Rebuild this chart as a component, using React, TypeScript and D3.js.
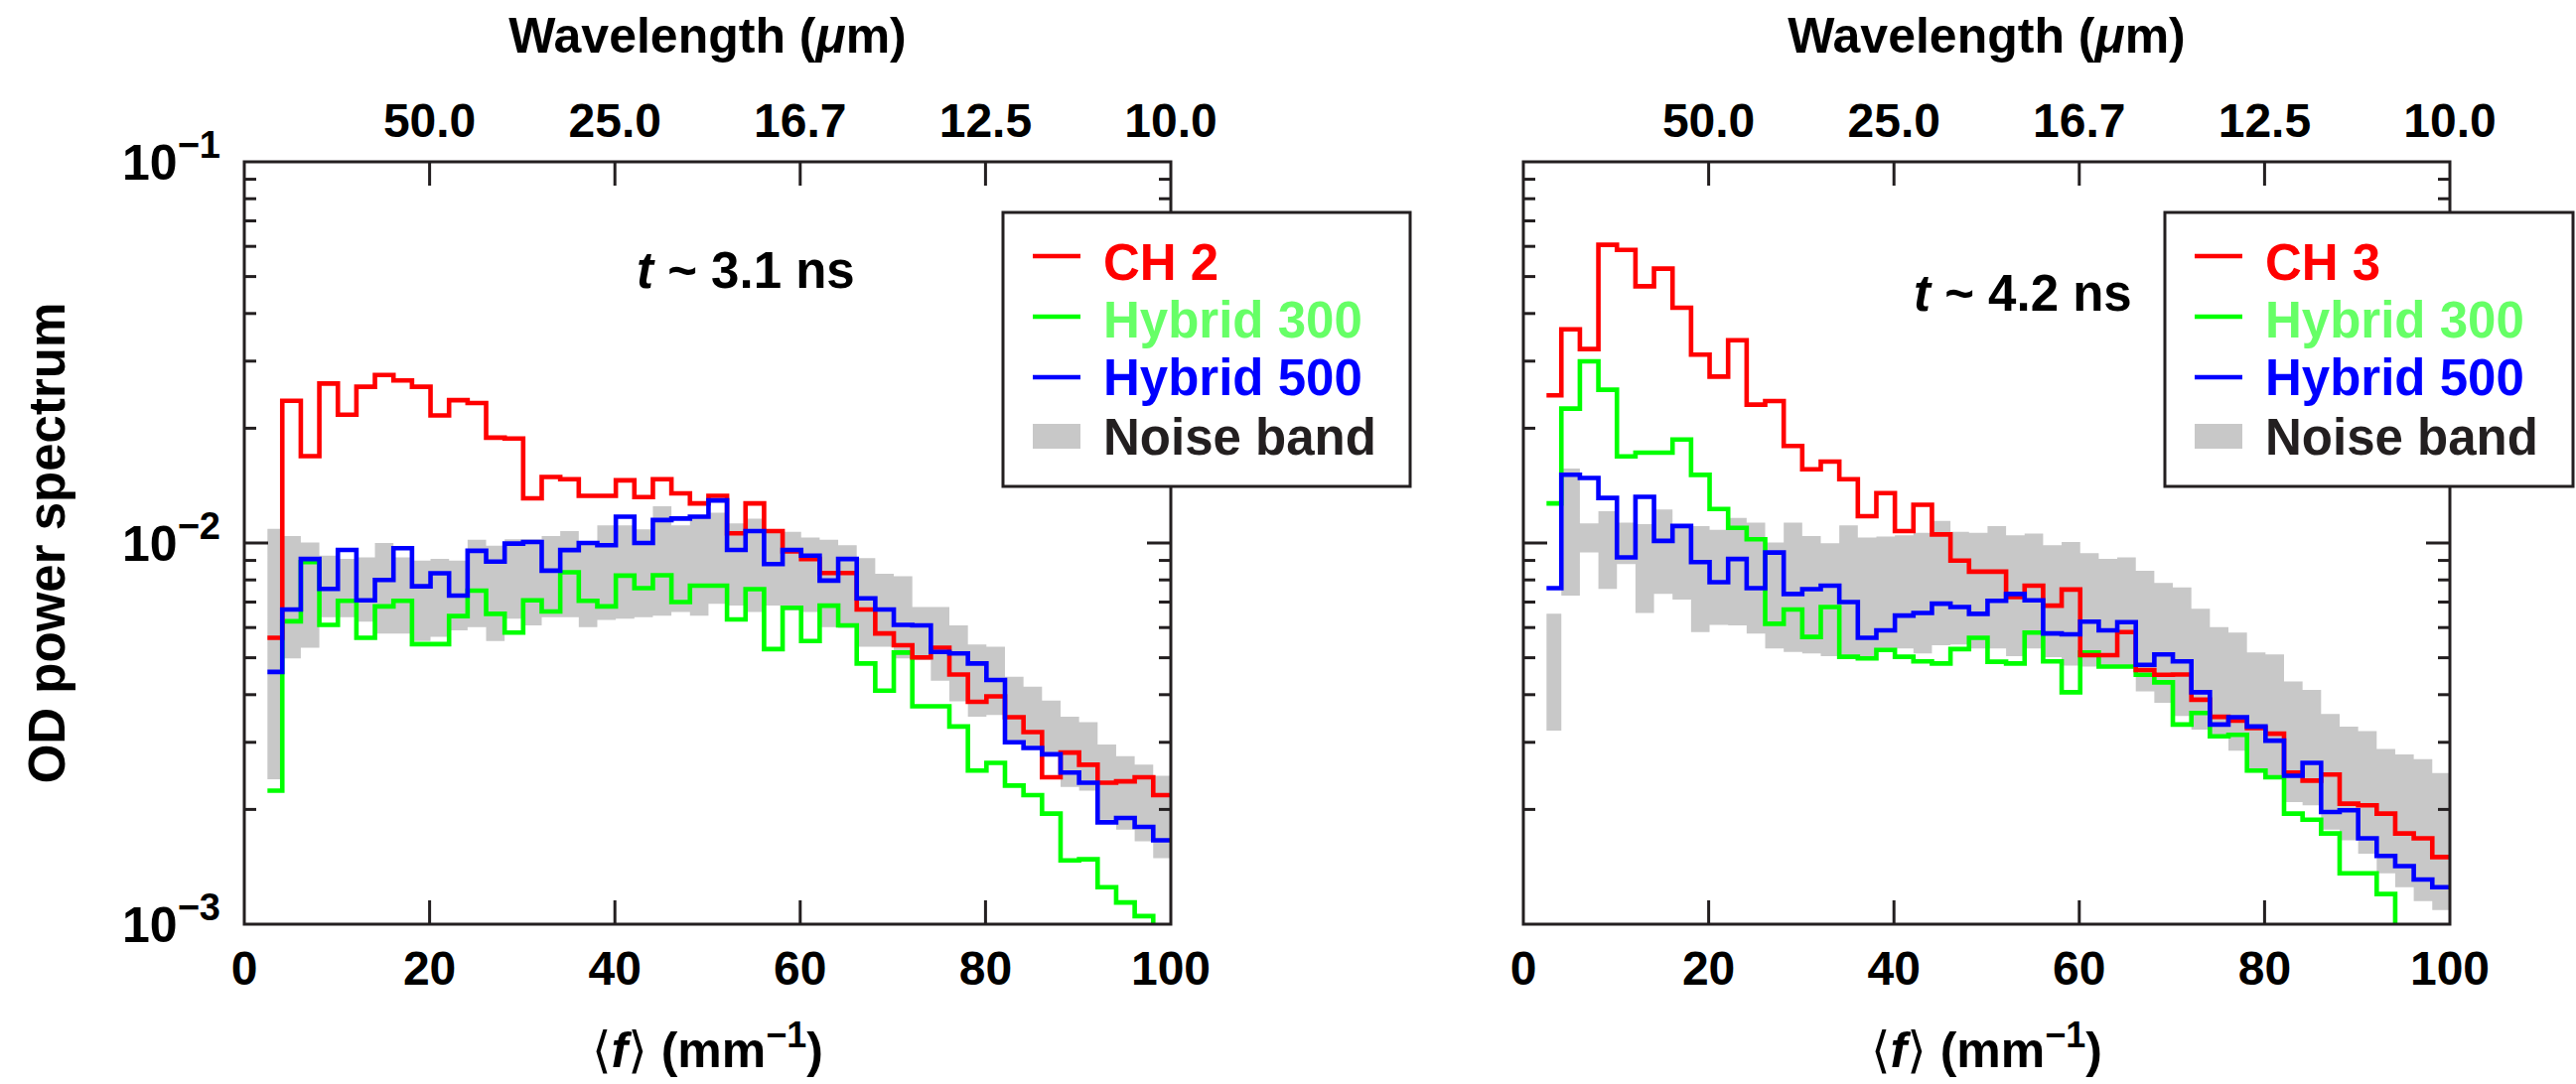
import React from 'react';
import * as d3 from 'd3';

// Bin edges (mm^-1) shared by all spectra
const BIN_EDGES = [2.5, 4.1, 6.1, 8.1, 10.1, 12.1, 14.1, 16.1, 18.1, 20.1, 22.1, 24.1, 26.1, 28.1, 30.1, 32.1, 34.1, 36.1, 38.1, 40.1, 42.1, 44.1, 46.1, 48.1, 50.1, 52.1, 54.1, 56.1, 58.1, 60.1, 62.1, 64.1, 66.1, 68.1, 70.1, 72.1, 74.1, 76.1, 78.1, 80.1, 82.1, 84.1, 86.1, 88.1, 90.1, 92.1, 94.1, 96.1, 98.1, 100];

// Left panel (t ~ 3.1 ns)
const L_CH2 = [0.00564, 0.0236, 0.0169, 0.0262, 0.0217, 0.0257, 0.0276, 0.0267, 0.0257, 0.0216, 0.0237, 0.0233, 0.0189, 0.0188, 0.0131, 0.0149, 0.0147, 0.0133, 0.0133, 0.0146, 0.0132, 0.0147, 0.0135, 0.0127, 0.0133, 0.0106, 0.0127, 0.01075, 0.0095, 0.00908, 0.00834, 0.00834, 0.00669, 0.00579, 0.00539, 0.00501, 0.00531, 0.00452, 0.00383, 0.00396, 0.00349, 0.00319, 0.00243, 0.00282, 0.00262, 0.00235, 0.00237, 0.00243, 0.00218];
const L_H300 = [0.00224, 0.00623, 0.00891, 0.0061, 0.00705, 0.00564, 0.00682, 0.00705, 0.00543, 0.00543, 0.00643, 0.0075, 0.00652, 0.00582, 0.00707, 0.00661, 0.00838, 0.00705, 0.00682, 0.00821, 0.00761, 0.00823, 0.0070, 0.00773, 0.00773, 0.0063, 0.00757, 0.00527, 0.00676, 0.00553, 0.00685, 0.00608, 0.00483, 0.0041, 0.00516, 0.00373, 0.00373, 0.0033, 0.00253, 0.00265, 0.00231, 0.00218, 0.00195, 0.00147, 0.00148, 0.00125, 0.00114, 0.00105, 0.0008];
const L_H500 = [0.00459, 0.00669, 0.00908, 0.00758, 0.00959, 0.00707, 0.0080, 0.00969, 0.0077, 0.00833, 0.00728, 0.00954, 0.00894, 0.00996, 0.01006, 0.00846, 0.00958, 0.0100, 0.00987, 0.01172, 0.0100, 0.01149, 0.01159, 0.01172, 0.01293, 0.00959, 0.01075, 0.0088, 0.00959, 0.00926, 0.00797, 0.00908, 0.00716, 0.00669, 0.0061, 0.00608, 0.00518, 0.00513, 0.00483, 0.00437, 0.0030, 0.0029, 0.00279, 0.0025, 0.00235, 0.00185, 0.0019, 0.0018, 0.00166];
const L_NOISE_HI = [0.0109, 0.01043, 0.01003, 0.00926, 0.00908, 0.00917, 0.0100, 0.00917, 0.00899, 0.00908, 0.00899, 0.01019, 0.00983, 0.01023, 0.01023, 0.01043, 0.01075, 0.0100, 0.01112, 0.01112, 0.01086, 0.01249, 0.01112, 0.01177, 0.0120, 0.01126, 0.01159, 0.01086, 0.01069, 0.01033, 0.01019, 0.00987, 0.00912, 0.0083, 0.00818, 0.00679, 0.00679, 0.00608, 0.00542, 0.00534, 0.00446, 0.0042, 0.00386, 0.0035, 0.00339, 0.00296, 0.00276, 0.00262, 0.00245];
const L_NOISE_LO = [0.0024, 0.00498, 0.00531, 0.00639, 0.00639, 0.00622, 0.00579, 0.00579, 0.00553, 0.00567, 0.0059, 0.00602, 0.00553, 0.00633, 0.00608, 0.00639, 0.00639, 0.00602, 0.00628, 0.00633, 0.00639, 0.00645, 0.00659, 0.00645, 0.00693, 0.00685, 0.00659, 0.00685, 0.00665, 0.00659, 0.00602, 0.00599, 0.00534, 0.00534, 0.00498, 0.00493, 0.00435, 0.00384, 0.0035, 0.00354, 0.00302, 0.00293, 0.00279, 0.00229, 0.00224, 0.00188, 0.00177, 0.00165, 0.00149];

// Right panel (t ~ 4.2 ns)
const R_CH3 = [0.02439, 0.03637, 0.03227, 0.06056, 0.05875, 0.04715, 0.05244, 0.04142, 0.03119, 0.02733, 0.03404, 0.02306, 0.02358, 0.01797, 0.01561, 0.01635, 0.0147, 0.01176, 0.01352, 0.01075, 0.0126, 0.01053, 0.00899, 0.00841, 0.00841, 0.00721, 0.00773, 0.00685, 0.00755, 0.00508, 0.00508, 0.00584, 0.00464, 0.00451, 0.00452, 0.00388, 0.0035, 0.00342, 0.00327, 0.00316, 0.0025, 0.00238, 0.00247, 0.00207, 0.00205, 0.00195, 0.00173, 0.00168, 0.0015];
const R_H300 = [0.0127, 0.02252, 0.02997, 0.02523, 0.01688, 0.01725, 0.01725, 0.01869, 0.01509, 0.01228, 0.01096, 0.01023, 0.00614, 0.00669, 0.00567, 0.00679, 0.00503, 0.00498, 0.00524, 0.00503, 0.00489, 0.00483, 0.00527, 0.00564, 0.00488, 0.00483, 0.00582, 0.00489, 0.00406, 0.00516, 0.00474, 0.00474, 0.00451, 0.00431, 0.00334, 0.00358, 0.00311, 0.00314, 0.00253, 0.00243, 0.00195, 0.00188, 0.00173, 0.00136, 0.00136, 0.0012, 0.0008, 0.0007, 0.0006];
const R_H500 = [0.00761, 0.0151, 0.01481, 0.01313, 0.00917, 0.01322, 0.01013, 0.01108, 0.00891, 0.00789, 0.00908, 0.00761, 0.00944, 0.00735, 0.00757, 0.00773, 0.0070, 0.00564, 0.0059, 0.00645, 0.00655, 0.00693, 0.00679, 0.00652, 0.00705, 0.00735, 0.00707, 0.00579, 0.00576, 0.00622, 0.0059, 0.0062, 0.00479, 0.0051, 0.00489, 0.00406, 0.00334, 0.00349, 0.0033, 0.00303, 0.00245, 0.00265, 0.00197, 0.00199, 0.00168, 0.00151, 0.00142, 0.00131, 0.00125];
const R_NOISE_HI = [0.00652, 0.01568, 0.01126, 0.01212, 0.01131, 0.0112, 0.01224, 0.0112, 0.01108, 0.01083, 0.01163, 0.01131, 0.01003, 0.01131, 0.01043, 0.00998, 0.01112, 0.01033, 0.01039, 0.01047, 0.01064, 0.01142, 0.01069, 0.01064, 0.01108, 0.01047, 0.01058, 0.00987, 0.01006, 0.0094, 0.00908, 0.00917, 0.00846, 0.00785, 0.00765, 0.00672, 0.00602, 0.00582, 0.00516, 0.0051, 0.00433, 0.00412, 0.00356, 0.0033, 0.00321, 0.00288, 0.00279, 0.00271, 0.00249];
const R_NOISE_LO = [0.00322, 0.00728, 0.00944, 0.00758, 0.0088, 0.00655, 0.00735, 0.00711, 0.00584, 0.0061, 0.00608, 0.00579, 0.00529, 0.00518, 0.00513, 0.00505, 0.00498, 0.00498, 0.00524, 0.00529, 0.00513, 0.00539, 0.00542, 0.00529, 0.00529, 0.00505, 0.00529, 0.00502, 0.00477, 0.00474, 0.00474, 0.00474, 0.00408, 0.00381, 0.00352, 0.00324, 0.00314, 0.00285, 0.0025, 0.00243, 0.00209, 0.00205, 0.00177, 0.00166, 0.00153, 0.00136, 0.00125, 0.00115, 0.00109];

const X_TICKS = [0, 20, 40, 60, 80, 100];
const TOP_TICKS = [20, 40, 60, 80, 100];
const Y_MAJOR = [1e-3, 1e-2, 1e-1];
const Y_MAJOR_EXP = ['3', '2', '1'];

const FONT = "'Liberation Sans', Arial, Helvetica, sans-serif";
const INK = '#231f20';
const RED = '#ff0000';
const GREEN = '#00ff00';
const BLUE = '#0000ff';
const GREEN_TEXT = '#66ff66';
const BAND = '#c8c8c8';

const TOP = 163;
const BOTTOM = 931;
const PW = 933;
const LW = 4.6;

type PanelProps = {
  id: string;
  x0: number;
  red: number[];
  green: number[];
  blue: number[];
  hi: number[];
  lo: number[];
  redLabel: string;
  time: string;
  timeX: number;
  timeY: number;
  legendX: number;
  legendW: number;
  yLabels: boolean;
};

function Panel(p: PanelProps) {
  const x = d3.scaleLinear().domain([0, 100]).range([p.x0, p.x0 + PW]);
  const y = d3.scaleLog().domain([1e-3, 1e-1]).range([BOTTOM, TOP]);
  const n = BIN_EDGES.length - 1;
  const pts = (vals: number[]) => {
    const a: [number, number][] = vals.map((v, i) => [BIN_EDGES[i], v]);
    a.push([BIN_EDGES[n], vals[n - 1]]);
    return a;
  };
  const line = d3.line<[number, number]>().x(d => x(d[0])).y(d => y(d[1])).curve(d3.curveStepAfter);
  const bandPts: [number, number, number][] = p.hi.map((v, i) => [BIN_EDGES[i], p.lo[i], v]);
  bandPts.push([BIN_EDGES[n], p.lo[n - 1], p.hi[n - 1]]);
  const area = d3.area<[number, number, number]>().x(d => x(d[0])).y0(d => y(d[1])).y1(d => y(d[2])).curve(d3.curveStepAfter);

  const minor: number[] = [];
  [1e-3, 1e-2].forEach(b => { for (let k = 2; k <= 9; k++) minor.push(b * k); });

  const xl = x(0), xr = x(100);
  const lx = p.legendX, ly = 214, lh = 276;
  const rows = [
    { label: p.redLabel, color: RED, text: RED },
    { label: 'Hybrid 300', color: GREEN, text: GREEN_TEXT },
    { label: 'Hybrid 500', color: BLUE, text: BLUE },
  ];
  const cx = (xl + xr) / 2;
  return (
    <g>
      <defs>
        <clipPath id={`clip-${p.id}`}>
          <rect x={xl} y={TOP} width={xr - xl} height={BOTTOM - TOP} />
        </clipPath>
      </defs>
      <g clipPath={`url(#clip-${p.id})`}>
        <path d={area(bandPts) || ''} fill={BAND} stroke="none" />
        <path d={line(pts(p.green)) || ''} fill="none" stroke={GREEN} strokeWidth={LW} />
        <path d={line(pts(p.red)) || ''} fill="none" stroke={RED} strokeWidth={LW} />
        <path d={line(pts(p.blue)) || ''} fill="none" stroke={BLUE} strokeWidth={LW} />
      </g>
      {X_TICKS.slice(1, -1).map(t => (
        <g key={`xt${t}`}>
          <line x1={x(t)} x2={x(t)} y1={BOTTOM} y2={BOTTOM - 24} stroke={INK} strokeWidth={3} />
          <line x1={x(t)} x2={x(t)} y1={TOP} y2={TOP + 24} stroke={INK} strokeWidth={3} />
        </g>
      ))}
      {Y_MAJOR.slice(1, -1).map(v => (
        <g key={`ym${v}`}>
          <line x1={xl} x2={xl + 24} y1={y(v)} y2={y(v)} stroke={INK} strokeWidth={3} />
          <line x1={xr} x2={xr - 24} y1={y(v)} y2={y(v)} stroke={INK} strokeWidth={3} />
        </g>
      ))}
      {minor.map(v => (
        <g key={`yn${v}`}>
          <line x1={xl} x2={xl + 12} y1={y(v)} y2={y(v)} stroke={INK} strokeWidth={3} />
          <line x1={xr} x2={xr - 12} y1={y(v)} y2={y(v)} stroke={INK} strokeWidth={3} />
        </g>
      ))}
      <rect x={xl} y={TOP} width={xr - xl} height={BOTTOM - TOP} fill="none" stroke={INK} strokeWidth={3} />
      {X_TICKS.map(t => (
        <text key={`xl${t}`} x={x(t)} y={992} textAnchor="middle" fontSize={48} fontWeight="bold" fontFamily={FONT} fill="#000">{t}</text>
      ))}
      {TOP_TICKS.map(t => (
        <text key={`tl${t}`} x={x(t)} y={138} textAnchor="middle" fontSize={48} fontWeight="bold" fontFamily={FONT} fill="#000">{d3.format('.1f')(1000 / t)}</text>
      ))}
      <text x={cx} y={53} textAnchor="middle" fontSize={50} fontWeight="bold" fontFamily={FONT} fill="#000">
        Wavelength (<tspan fontStyle="italic">μ</tspan>m)
      </text>
      <text x={cx} y={1075} textAnchor="middle" fontSize={50} fontWeight="bold" fontFamily={FONT} fill="#000">
        <tspan fontFamily="'DejaVu Sans', sans-serif" fontWeight="normal">⟨</tspan><tspan fontStyle="italic">f</tspan><tspan fontFamily="'DejaVu Sans', sans-serif" fontWeight="normal">⟩</tspan> (mm<tspan fontSize={36} dy={-20}>−1</tspan><tspan dy={20}>)</tspan>
      </text>
      {p.yLabels && Y_MAJOR.map((v, i) => (
        <text key={`yl${v}`} x={222} y={y(v) + 18} textAnchor="end" fontSize={50} fontWeight="bold" fontFamily={FONT} fill="#000">
          10<tspan fontSize={38} dy={-22}>−{Y_MAJOR_EXP[i]}</tspan>
        </text>
      ))}
      <text x={p.timeX} y={p.timeY} fontSize={51} fontWeight="bold" fontFamily={FONT} fill="#000">
        <tspan fontStyle="italic">t</tspan> ~ {p.time} ns
      </text>
      <rect x={lx} y={ly} width={p.legendW} height={lh} fill="#fff" stroke={INK} strokeWidth={3} />
      {rows.map((r, i) => (
        <g key={r.label}>
          <line x1={lx + 30} x2={lx + 78} y1={ly + 44 + i * 61} y2={ly + 44 + i * 61} stroke={r.color} strokeWidth={LW} />
          <text x={lx + 101} y={ly + 68 + i * 58} fontSize={51} fontWeight="bold" fontFamily={FONT} fill={r.text}>{r.label}</text>
        </g>
      ))}
      <rect x={lx + 30} y={ly + 213} width={48} height={25} fill={BAND} />
      <text x={lx + 101} y={ly + 244} fontSize={51} fontWeight="bold" fontFamily={FONT} fill={INK}>Noise band</text>
    </g>
  );
}

export default function App() {
  return (
    <svg width={2594} height={1092} style={{ position: 'absolute', left: 0, top: 0, background: '#fff' }}>
      <rect x={0} y={0} width={2594} height={1092} fill="#fff" />
      <text transform="translate(65,547) rotate(-90)" textAnchor="middle" fontSize={51} fontWeight="bold" fontFamily={FONT} fill="#000">OD power spectrum</text>
      <Panel id="L" x0={246} red={L_CH2} green={L_H300} blue={L_H500} hi={L_NOISE_HI} lo={L_NOISE_LO}
        redLabel="CH 2" time="3.1" timeX={641} timeY={290} legendX={1010} legendW={410} yLabels={true} />
      <Panel id="R" x0={1534} red={R_CH3} green={R_H300} blue={R_H500} hi={R_NOISE_HI} lo={R_NOISE_LO}
        redLabel="CH 3" time="4.2" timeX={1927} timeY={313} legendX={2180} legendW={411} yLabels={false} />
    </svg>
  );
}
